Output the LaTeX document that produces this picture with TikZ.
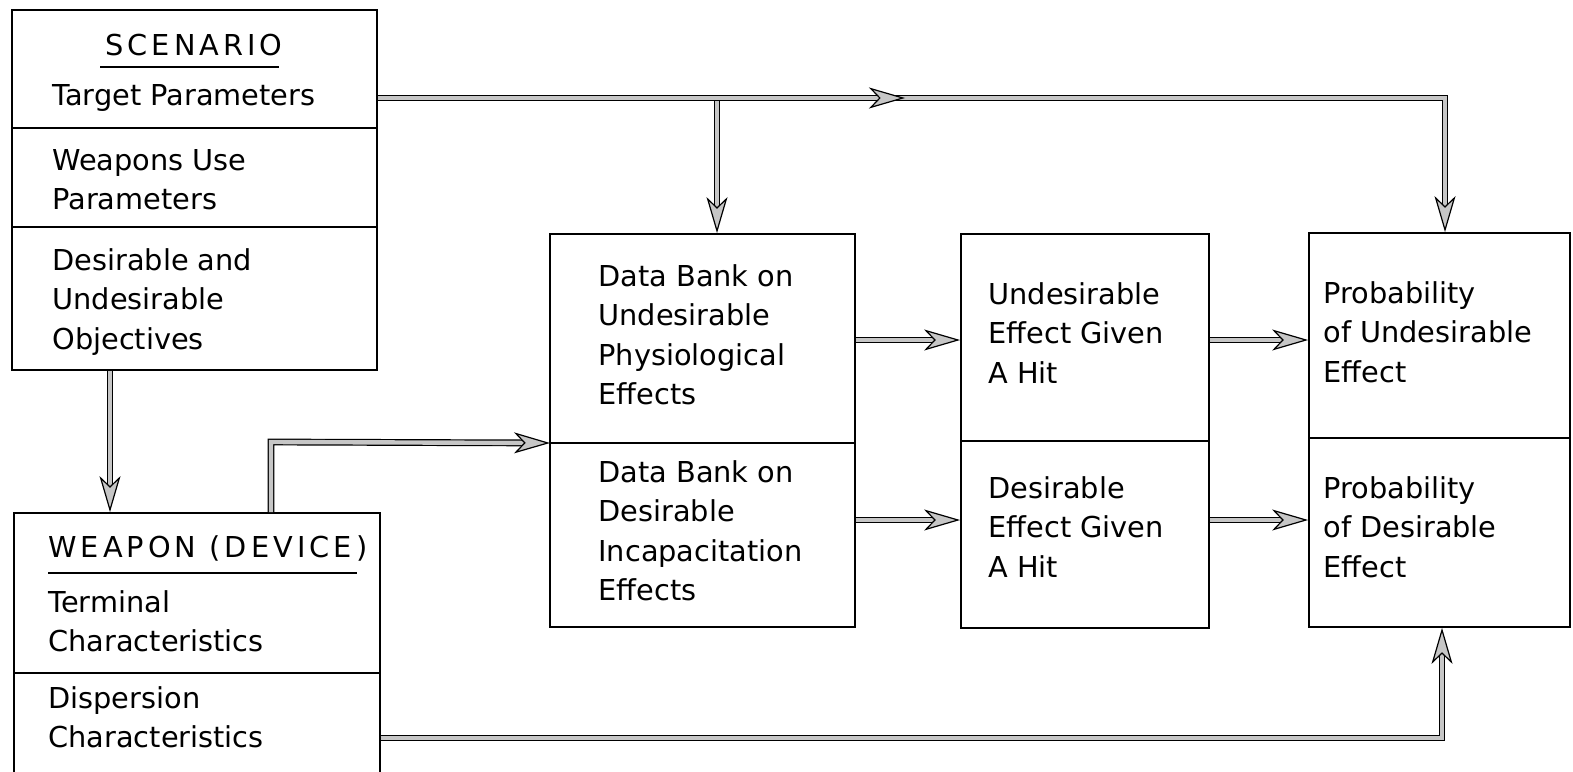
\documentclass[tikz,border=0pt]{standalone}
\usepackage{fontspec}
\setmainfont{DejaVu Sans}
\newfontfamily\capsfont[LetterSpace=14]{DejaVu Sans}
\usetikzlibrary{arrows.meta}

\tikzset{
  box/.style={draw, line width=0.9pt, inner sep=0pt},
  divider/.style={line width=0.9pt},
  txt/.style={inner sep=0pt, anchor=base west, font=\fontsize{14.4}{19.75}\selectfont},
  shaft/.style={line width=0.6pt, double=gray!45, double distance=2.2pt},
  conn/.style={shaft, -{Stealth[length=18pt,width=10.5pt,inset=5pt,fill=gray!45,line width=0.6pt]}},
}
\newcommand{\lines}[1]{\begin{tabular}[t]{@{}l@{}}#1\end{tabular}}

\begin{document}
\begin{tikzpicture}[x=0.5pt,y=-0.5pt]
  \clip (0,0) rectangle (1573,771);
  \fill[white] (0,0) rectangle (1573,771);

  % boxes
  \node[box, minimum width=182.5pt, minimum height=180pt] (scen) at (194.5,190) {};
  \node[box, minimum width=183pt, minimum height=138.5pt] (weap) at (197,651.5) {};
  \node[box, minimum width=152.5pt, minimum height=196.5pt] (bank) at (702.5,430.5) {};
  \node[box, minimum width=124pt, minimum height=197pt] (eff) at (1085,431) {};
  \node[box, minimum width=130.5pt, minimum height=197pt] (prob) at (1439.5,430) {};

  % compartment dividers
  \coordinate (d1) at (0,128);
  \coordinate (d2) at (0,227);
  \coordinate (d3) at (0,673);
  \coordinate (d4) at (0,443);
  \coordinate (d5) at (0,441);
  \coordinate (d6) at (0,438);
  \draw[divider] (scen.west |- d1) -- (scen.east |- d1);
  \draw[divider] (scen.west |- d2) -- (scen.east |- d2);
  \draw[divider] (weap.west |- d3) -- (weap.east |- d3);
  \draw[divider] (bank.west |- d4) -- (bank.east |- d4);
  \draw[divider] (eff.west |- d5) -- (eff.east |- d5);
  \draw[divider] (prob.west |- d6) -- (prob.east |- d6);

  % scenario texts
  \node[txt, anchor=base] (sTitle) at (194,55) {\capsfont SCENARIO};
  \draw[line width=0.8pt] (100,67) -- (279,67);
  \node[txt] (sTarget) at (52,105) {Target Parameters};
  \node[txt] (sUse) at (52,170) {\lines{Weapons Use\\Parameters}};
  \node[txt] (sObj) at (52,270) {\lines{Desirable and\\Undesirable\\Objectives}};

  % weapon texts
  \node[txt] (wTitle) at (48,557) {\capsfont WEAPON (DEVICE)};
  \draw[line width=0.8pt] (48,573) -- (357,573);
  \node[txt] (wTerm) at (48,612) {\lines{Terminal\\Characteristics}};
  \node[txt] (wDisp) at (48,708) {\lines{Dispersion\\Characteristics}};

  % data bank texts
  \node[txt] (bU) at (598,286) {\lines{Data Bank on\\Undesirable\\Physiological\\Effects}};
  \node[txt] (bD) at (598,482) {\lines{Data Bank on\\Desirable\\Incapacitation\\Effects}};

  % effect texts
  \node[txt] (eU) at (988,304) {\lines{Undesirable\\Effect Given\\A Hit}};
  \node[txt] (eD) at (988,498) {\lines{Desirable\\Effect Given\\A Hit}};

  % probability texts
  \node[txt] (pU) at (1323,303) {\lines{Probability\\of Undesirable\\Effect}};
  \node[txt] (pD) at (1323,498) {\lines{Probability\\of Desirable\\Effect}};

  % connector routing points
  \coordinate (tr) at (1445,98);
  \coordinate (tmid) at (860,98);
  \coordinate (ttip) at (905,98);
  \coordinate (br) at (717,98);
  \coordinate (c1) at (110,0);
  \coordinate (c2) at (271,442);
  \coordinate (bin) at (550,443);
  \coordinate (r1) at (0,340);
  \coordinate (r2) at (0,520);
  \coordinate (bt) at (1442,738);

  % connectors
  \draw[conn] (br) -- (br |- bank.north);
  \draw[conn] (tmid) -- (tr) -- (tr |- prob.north);
  \draw[conn] (scen.east |- tr) -- (ttip);
  \draw[conn] (scen.south -| c1) -- (weap.north -| c1);
  \draw[conn] (weap.north -| c2) -- (c2) -- (bin);
  \draw[conn] (bank.east |- r1) -- (eff.west |- r1);
  \draw[conn] (bank.east |- r2) -- (eff.west |- r2);
  \draw[conn] (eff.east |- r1) -- (prob.west |- r1);
  \draw[conn] (eff.east |- r2) -- (prob.west |- r2);
  \draw[conn] (weap.east |- bt) -- (bt) -- (bt |- prob.south);
\end{tikzpicture}
\end{document}
